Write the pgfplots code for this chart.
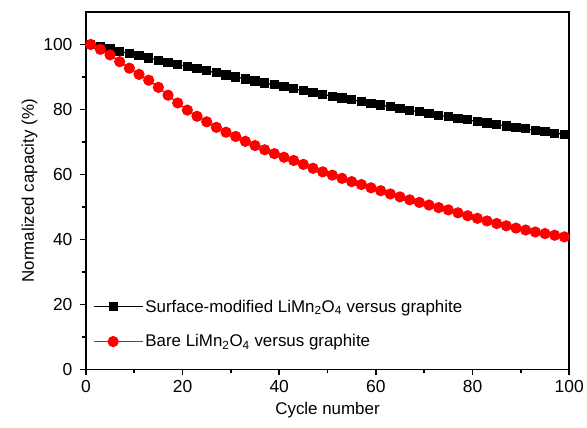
\documentclass[border=0pt]{standalone}
\usepackage{fontspec}
\setmainfont{Liberation Sans}
\usepackage{pgfplots}
\pgfplotsset{compat=1.18}
\definecolor{myred}{RGB}{255,0,0}
\begin{document}
\begin{tikzpicture}
\begin{axis}[
  name=ax,
  scale only axis,
  width=484bp, height=358bp,
  xmin=0, xmax=100, ymin=0, ymax=110,
  xtick={0,20,...,100}, ytick={0,20,...,100},
  minor x tick num=1, minor y tick num=1,
  xtick pos=bottom, ytick pos=left,
  tick align=outside,
  major tick length=6bp, minor tick length=4bp,
  every tick/.style={line width=1.5bp, black},
  axis line style={line width=1.5bp},
  /pgf/number format/assume math mode=true,
  tick label style={font=\fontsize{17.5}{20}\selectfont},
  yticklabel style={xshift=-4bp},
  xticklabel style={yshift=-1bp},
  label style={font=\fontsize{17}{20}\selectfont},
  xlabel={Cycle number}, ylabel={Normalized capacity (\%)},
  xlabel style={yshift=-3bp},
  ylabel style={yshift=-1bp},
  legend style={draw=none, fill=none, at={(0.01,0.206)}, anchor=north west,
    font=\fontsize{17}{20}\selectfont, row sep=17bp},
  legend cell align=left,
  legend image code/.code={\draw[mark repeat=2,mark phase=2] plot coordinates {(0cm,0cm) (0.66cm,0cm) (1.32cm,0cm)};
    \path (1.32cm,0cm) -- ++(11bp,0);},
]
\addplot[black, line width=1.2bp, mark=square*, mark size=4bp] coordinates {
(1,100.00)(3,99.29)(5,98.59)(7,97.90)(9,97.21)(11,96.52)(13,95.84)(15,95.17)(17,94.50)(19,93.84)
(21,93.19)(23,92.54)(25,91.90)(27,91.26)(29,90.63)(31,90.01)(33,89.39)(35,88.78)(37,88.17)(39,87.57)
(41,86.97)(43,86.38)(45,85.80)(47,85.22)(49,84.65)(51,84.09)(53,83.53)(55,82.98)(57,82.43)(59,81.89)
(61,81.35)(63,80.82)(65,80.30)(67,79.78)(69,79.27)(71,78.76)(73,78.26)(75,77.77)(77,77.28)(79,76.79)
(81,76.32)(83,75.85)(85,75.38)(87,74.93)(89,74.47)(91,74.03)(93,73.58)(95,73.15)(97,72.72)(99,72.30)
};
\addlegendentry{Surface-modified LiMn\textsubscript{2}O\textsubscript{4} versus graphite}
\addplot[myred, line width=1.2bp, mark=*, mark size=5bp] coordinates {
(1,100.0)(3,98.5)(5,96.8)(7,94.7)(9,92.7)(11,90.8)(13,89.0)(15,86.8)(17,84.4)(19,82.0)
(21,79.8)(23,77.9)(25,76.2)(27,74.5)(29,73.0)(31,71.7)(33,70.2)(35,68.9)(37,67.6)(39,66.4)
(41,65.3)(43,64.3)(45,63.1)(47,61.9)(49,60.8)(51,59.8)(53,58.8)(55,57.8)(57,56.9)(59,55.9)
(61,55.0)(63,54.0)(65,53.1)(67,52.2)(69,51.4)(71,50.6)(73,49.8)(75,49.1)(77,48.2)(79,47.3)
(81,46.5)(83,45.7)(85,44.9)(87,44.2)(89,43.5)(91,42.9)(93,42.3)(95,41.8)(97,41.3)(99,40.8)
};
\addlegendentry{Bare LiMn\textsubscript{2}O\textsubscript{4} versus graphite}
\end{axis}
\path ([xshift=-86bp,yshift=-58bp]ax.south west) rectangle ([xshift=17bp,yshift=12bp]ax.north east);
\end{tikzpicture}
\end{document}
